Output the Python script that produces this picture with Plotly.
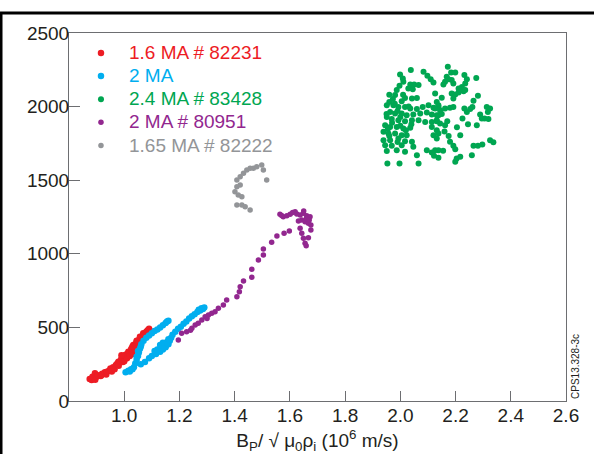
import plotly.graph_objects as go

# ---------------- data ----------------
red_x = [0.875, 0.882, 0.885, 0.894, 0.895, 0.900, 0.905, 0.915, 0.918, 0.920, 0.930, 0.935, 0.937,
         0.945, 0.950, 0.955, 0.960, 0.965, 0.970, 0.975, 0.979, 0.980, 0.985, 0.990, 0.991, 0.995,
         1.000, 1.003, 1.005, 1.010, 1.015, 1.020, 1.025, 1.027, 1.030, 1.033, 1.035, 1.040, 1.045,
         1.050, 1.055, 1.057, 1.060, 1.065, 1.069, 1.070, 1.075, 1.080, 1.082, 1.085, 1.090, 1.093,
         1.000, 1.010, 1.020, 1.030, 1.040, 1.050, 1.060, 0.990, 1.030, 1.045]
red_y = [150, 143, 165, 188, 145, 165, 175, 170, 177, 185, 195, 180, 199,
         205, 220, 200, 230, 215, 245, 255, 267, 240, 270, 285, 290, 265,
         300, 312, 290, 320, 335, 335, 350, 358, 340, 380, 365, 385, 403,
         400, 420, 437, 410, 440, 460, 455, 445, 470, 471, 480, 490, 478,
         270, 290, 305, 320, 350, 370, 395, 310, 370, 410]

cyan_x = [1.005, 1.015, 1.025, 1.035, 1.040, 1.045, 1.050, 1.053, 1.057, 1.062, 1.070, 1.080,
          1.090, 1.100, 1.110, 1.120, 1.130, 1.140, 1.150, 1.160, 1.155, 1.045, 1.050, 1.060,
          1.060, 1.075, 1.090, 1.100, 1.115, 1.130, 1.140, 1.150, 1.160, 1.165, 1.170, 1.175,
          1.185, 1.195, 1.205, 1.215, 1.225, 1.235, 1.245, 1.255, 1.265, 1.275, 1.285, 1.290,
          1.280, 1.270, 1.120, 1.130, 1.140, 1.110, 1.155, 1.160, 1.020, 1.030]
cyan_y = [195, 205, 215, 230, 255, 280, 305, 330, 355, 385, 410, 430,
          445, 460, 475, 485, 500, 515, 530, 545, 540, 300, 340, 370,
          250, 265, 290, 305, 320, 335, 350, 365, 385, 410, 430, 450,
          470, 490, 505, 525, 540, 560, 575, 590, 605, 615, 625, 635,
          630, 620, 350, 380, 395, 340, 400, 420, 200, 215]

green_x = [2.038, 2.084, 2.098, 2.110, 2.120, 1.999, 2.009, 2.011, 1.997, 1.987, 1.981, 1.973,
           2.036, 2.050, 2.066, 2.029, 2.045, 2.126, 2.017, 2.042, 2.060, 2.005, 1.960, 1.951,
           1.975, 1.993, 2.017, 2.036, 2.060, 2.081, 2.102, 2.120, 2.138, 1.963, 1.981, 2.005,
           2.023, 2.047, 2.072, 2.096, 2.114, 2.132, 1.951, 1.969, 1.993, 2.017, 2.042, 2.066,
           2.090, 2.114, 2.132, 1.945, 1.963, 1.987, 2.011, 2.036, 2.114, 2.132, 1.939, 1.957,
           1.981, 2.005, 2.023, 2.120, 1.939, 1.963, 1.993, 2.017, 2.042, 1.945, 1.969, 2.005,
           2.047, 1.951, 1.987, 2.017, 2.060, 2.096, 2.114, 2.122, 2.138, 1.953, 1.997, 2.066,
           1.960, 1.980, 1.990, 1.950, 1.970, 2.000, 1.960, 2.030, 2.010, 1.990, 2.040, 2.000,
           1.955, 2.020,
           2.172, 2.184, 2.199, 2.168, 2.174, 2.162, 2.156, 2.186, 2.192, 2.232, 2.241, 2.235,
           2.223, 2.211, 2.275, 2.186, 2.199, 2.211, 2.229, 2.235, 2.192, 2.281, 2.132, 2.138,
           2.126, 2.144, 2.162, 2.180, 2.192, 2.232, 2.241, 2.253, 2.261, 2.313, 2.325, 2.317,
           2.289, 2.305, 2.319, 2.295, 2.138, 2.132, 2.144, 2.162, 2.277, 2.138, 2.132, 2.217,
           2.180, 2.192, 2.199, 2.265, 2.281, 2.297, 2.325, 2.337, 2.126, 2.138, 2.204, 2.217,
           2.199, 2.259, 2.150, 2.170, 2.160, 2.205, 2.225, 2.150, 2.175, 2.245, 2.265, 2.155]
green_y = [2248, 2236, 2209, 2186, 2164, 2218, 2191, 2168, 2141, 2112, 2078, 2051,
           2150, 2150, 2146, 2123, 2118, 2089, 2059, 2055, 2059, 2037, 2032, 2010,
           2010, 1998, 1998, 1987, 1983, 1998, 2010, 1992, 1998, 1964, 1953, 1953,
           1942, 1947, 1953, 1960, 1947, 1942, 1930, 1915, 1908, 1901, 1908, 1908,
           1896, 1896, 1901, 1874, 1862, 1862, 1852, 1856, 1862, 1840, 1829, 1818,
           1818, 1806, 1806, 1806, 1772, 1772, 1784, 1765, 1761, 1738, 1734, 1738,
           1727, 1698, 1704, 1693, 1670, 1704, 1689, 1666, 1704, 1614, 1614, 1614,
           2080, 2020, 1970, 1950, 1890, 1870, 1800, 2000, 2080, 1760, 1880, 1930,
           1850, 1840,
           2270, 2232, 2232, 2202, 2186, 2168, 2150, 2180, 2157, 2214, 2186, 2157,
           2134, 2123, 2195, 2089, 2082, 2096, 2105, 2112, 2055, 2073, 2032, 2010,
           1987, 1976, 1987, 1992, 1998, 1987, 1964, 1983, 1998, 1998, 1987, 1964,
           1947, 1920, 1915, 1920, 1942, 1908, 1886, 1874, 1874, 1818, 1784, 1806,
           1761, 1734, 1711, 1734, 1734, 1743, 1772, 1757, 1704, 1652, 1648, 1659,
           1625, 1670, 1950, 1900, 1830, 1860, 1920, 2060, 1800, 1880, 2040, 1700]

purple_x = [1.196, 1.208, 1.226, 1.245, 1.257, 1.268, 1.281, 1.293, 1.305, 1.317, 1.329, 1.341,
            1.359, 1.371, 1.408, 1.417, 1.420, 1.432, 1.462, 1.462, 1.486, 1.504, 1.504, 1.534,
            1.553, 1.579, 1.598, 1.564, 1.576, 1.589, 1.601, 1.619, 1.637, 1.649, 1.661, 1.673,
            1.643, 1.655, 1.667, 1.631, 1.637, 1.643, 1.649, 1.655, 1.659, 1.667, 1.676, 1.676,
            1.610, 1.625, 1.660, 1.670, 1.650, 1.570, 1.300, 1.240]
purple_y = [414, 460, 471, 494, 516, 528, 550, 573, 584, 596, 606, 630,
            652, 686, 708, 742, 776, 815, 840, 895, 958, 992, 1033, 1078,
            1121, 1139, 1155, 1268, 1252, 1259, 1268, 1286, 1264, 1275, 1259, 1252,
            1230, 1218, 1207, 1223, 1173, 1139, 1105, 1071, 1055, 1109, 1162, 1196,
            1280, 1270, 1240, 1230, 1290, 1260, 560, 480]

gray_x = [1.408, 1.420, 1.432, 1.444, 1.456, 1.468, 1.480, 1.498, 1.504, 1.516, 1.408, 1.420,
          1.401, 1.413, 1.426, 1.408, 1.426, 1.438, 1.456]
gray_y = [1501, 1524, 1547, 1569, 1581, 1581, 1592, 1603, 1569, 1501, 1456, 1467,
          1422, 1399, 1388, 1331, 1331, 1320, 1297]

series = [
    ("1.6 MA # 82231", "#ED1C24", red_x, red_y, 6.5),
    ("2 MA", "#00AEEF", cyan_x, cyan_y, 6.5),
    ("2.4 MA # 83428", "#00A651", green_x, green_y, 6),
    ("2 MA # 80951", "#92278F", purple_x, purple_y, 5.5),
    ("1.65 MA # 82222", "#939598", gray_x, gray_y, 5.5),
]

x_ticks = [1.0, 1.2, 1.4, 1.6, 1.8, 2.0, 2.2, 2.4, 2.6]
y_ticks = [0, 500, 1000, 1500, 2000, 2500]

FONT = "Liberation Sans, Arial, Helvetica, sans-serif"
AXIS_COLOR = "#6d6e71"

fig = go.Figure()
for name, color, xs, ys, size in series:
    fig.add_trace(go.Scatter(
        x=xs, y=ys, mode="markers",
        name=f'<span style="color:{color};font-size:19px">{name}</span>',
        marker=dict(color=color, size=size, line=dict(width=0)),
        cliponaxis=False,
    ))

fig.update_layout(
    width=594, height=454,
    margin=dict(l=69, r=28, t=33, b=53),
    paper_bgcolor="white", plot_bgcolor="white",
    font=dict(family=FONT, size=19, color="#231f20"),
    showlegend=True,
    legend=dict(x=0.008, y=0.991, xanchor="left", yanchor="top",
                bgcolor="rgba(0,0,0,0)", font=dict(size=15.5),
                itemwidth=46, tracegroupgap=0),
    xaxis=dict(range=[0.8, 2.6], tickvals=x_ticks, ticktext=[f"{v:.1f}" for v in x_ticks],
               ticks="inside", ticklen=10, tickcolor=AXIS_COLOR, tickwidth=1,
               showline=True, linecolor=AXIS_COLOR, linewidth=1, mirror=True,
               showgrid=False, zeroline=False, ticklabelstandoff=-3, automargin=False,
               title=dict(text="B<sub>P</sub>/ √ μ<sub>0</sub>ρ<sub>i</sub> (10<sup>6</sup> m/s)",
                          font=dict(size=19), standoff=10)),
    yaxis=dict(range=[0, 2500], tickvals=y_ticks, ticktext=[str(v) for v in y_ticks],
               ticks="inside", ticklen=11, tickcolor=AXIS_COLOR, tickwidth=1,
               showline=True, linecolor=AXIS_COLOR, linewidth=1, mirror=True,
               showgrid=False, zeroline=False, ticklabelstandoff=-5, automargin=False),
    shapes=[
        dict(type="line", xref="paper", yref="paper", x0=-0.1388, x1=1.06, y0=1.0543, y1=1.0543,
             line=dict(color="black", width=3)),
        dict(type="line", xref="paper", yref="paper", x0=-0.1368, x1=-0.1368, y0=1.0543, y1=-0.2,
             line=dict(color="black", width=3)),
    ],
    annotations=[
        dict(text="CPS13.328-3c", xref="paper", yref="paper", x=1.004, y=0.0,
             xanchor="left", yanchor="bottom", textangle=-90, showarrow=False,
             font=dict(size=10, color="#231f20", family=FONT)),
    ],
)

fig.write_html("out.html")
